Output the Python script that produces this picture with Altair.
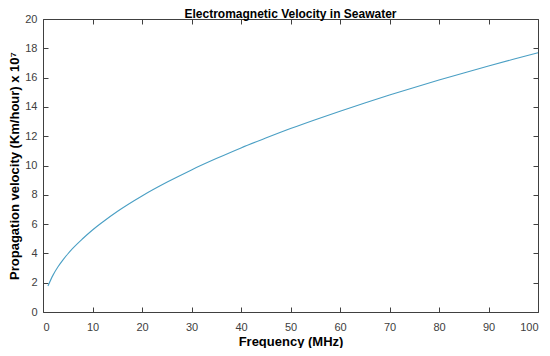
import altair as alt
import pandas as pd

freq_mhz = [1, 2, 3, 4, 5, 6, 8, 10, 12, 15, 20, 25, 30, 35, 40, 45, 50,
            55, 60, 65, 70, 75, 80, 85, 90, 95, 100]
velocity = [1.77, 2.5, 3.07, 3.54, 3.96, 4.34, 5.0, 5.6, 6.13, 6.86, 7.92,
            8.85, 9.7, 10.47, 11.2, 11.87, 12.52, 13.13, 13.71, 14.27, 14.81,
            15.33, 15.83, 16.32, 16.79, 17.25, 17.7]
x_ticks = [0, 10, 20, 30, 40, 50, 60, 70, 80, 90, 100]
y_ticks = [0, 2, 4, 6, 8, 10, 12, 14, 16, 18, 20]

df = pd.DataFrame({"f": freq_mhz, "v": velocity})

FONT = "Liberation Sans"
AX = "#404040"
xs = alt.Scale(domain=[0, 100], nice=False, zero=False)
ys = alt.Scale(domain=[0, 20], nice=False)

common = dict(grid=False, domain=False, tickColor=AX, tickSize=5, offset=-5,
              labelFont=FONT, labelFontSize=11, labelColor=AX,
              titleFont=FONT, titleFontSize=13, titleFontWeight="bold",
              titleColor="#000000")
plain = {k: v for k, v in common.items() if not k.startswith("title")}

line = alt.Chart(df).mark_line(color="#4a9fc4", strokeWidth=1.1,
                               interpolate="monotone").encode(
    x=alt.X("f:Q", scale=xs,
            axis=alt.Axis(orient="bottom", values=x_ticks, labelPadding=9,
                          title="Frequency (MHz)", titleY=34,
                          titleBaseline="middle", **common)),
    y=alt.Y("v:Q", scale=ys,
            axis=alt.Axis(orient="left", values=y_ticks, labelPadding=6,
                          title="Propagation velocity (Km/hour) x 10⁷",
                          titleX=-27, titleBaseline="bottom", **common)),
)

frame = alt.Chart(df).mark_point(opacity=0).encode(
    x=alt.X("f:Q", scale=xs,
            axis=alt.Axis(orient="top", values=x_ticks, labels=False,
                          title=None, **plain)),
    y=alt.Y("v:Q", scale=ys,
            axis=alt.Axis(orient="right", values=y_ticks, labels=False,
                          title=None, **plain)),
)

chart = alt.layer(line, frame).resolve_axis(
    x="independent", y="independent"
).properties(
    width=495, height=293,
    title=alt.TitleParams("Electromagnetic Velocity in Seawater", font=FONT,
                          fontSize=12, fontWeight="bold", color="#000000",
                          offset=-8, anchor="middle"),
    autosize=alt.AutoSizeParams(type="none"),
    padding={"left": 35, "top": 11, "right": 4, "bottom": 36},
    background="#ffffff",
).configure_view(stroke=AX, strokeWidth=1)

chart.save("out.html", embed_options={"renderer": "svg", "actions": False})
